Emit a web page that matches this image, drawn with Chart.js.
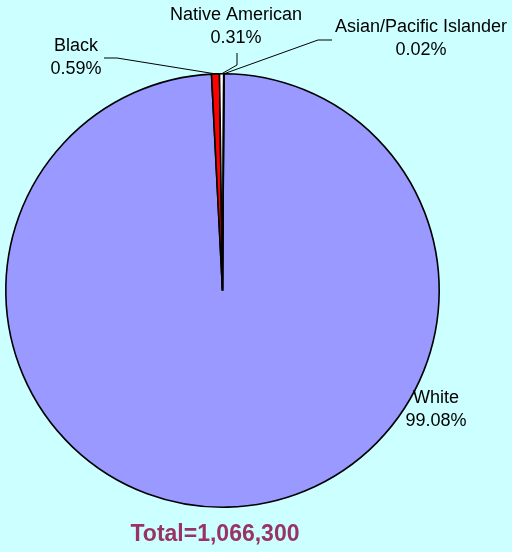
<!DOCTYPE html>
<html>
<head>
<meta charset="utf-8">
<script src="https://cdn.jsdelivr.net/npm/chart.js@4.4.0/dist/chart.umd.min.js"></script>
<style>
  html, body { margin: 0; padding: 0; background: #CCFFFF; }
  #wrap { position: relative; width: 512px; height: 552px; }
  canvas { display: block; }
</style>
</head>
<body>
<div id="wrap"><canvas id="c" width="512" height="552"></canvas></div>
<script>
const categories = ["White", "Black", "Native American", "Asian/Pacific Islander"];
const percentages = [99.08, 0.59, 0.31, 0.02];
const percentLabels = ["99.08%", "0.59%", "0.31%", "0.02%"];
const sliceColors = ["#9999FF", "#FF0000", "#FFFFFF", "#FFFFCC"];
const totalLabel = "Total=1,066,300";

// label layout: text centre, leader start, leader elbow
const labelLayout = [
  { text: [436, 398], lead: null },
  { text: [76, 46], lead: [[104, 58], [117, 58]] },
  { text: [236, 15], lead: [[237, 53], [237, 65]] },
  { text: [421, 27], lead: [[332, 40], [318, 40]] }
];

const labelPlugin = {
  id: 'labels',
  afterDraw(chart) {
    const ctx = chart.ctx;
    const meta = chart.getDatasetMeta(0);
    ctx.save();
    ctx.font = '18px "Liberation Sans", Arial, sans-serif';
    ctx.fillStyle = '#000';
    ctx.textAlign = 'center';
    ctx.textBaseline = 'middle';
    categories.forEach((cat, i) => {
      const L = labelLayout[i];
      ctx.fillText(cat, L.text[0], L.text[1]);
      ctx.fillText(percentLabels[i], L.text[0], L.text[1] + 23);
      if (L.lead) {
        const arc = meta.data[i];
        const p = arc.getProps(['x', 'y', 'startAngle', 'endAngle', 'outerRadius'], true);
        const mid = (p.startAngle + p.endAngle) / 2;
        const ex = p.x + Math.cos(mid) * p.outerRadius;
        const ey = p.y + Math.sin(mid) * p.outerRadius;
        ctx.beginPath();
        ctx.strokeStyle = '#000';
        ctx.lineWidth = 1;
        ctx.moveTo(L.lead[0][0], L.lead[0][1]);
        ctx.lineTo(L.lead[1][0], L.lead[1][1]);
        ctx.lineTo(ex, ey);
        ctx.stroke();
      }
    });
    ctx.font = 'bold 23px "Liberation Sans", Arial, sans-serif';
    ctx.fillStyle = '#993366';
    ctx.fillText(totalLabel, 215, 535);
    ctx.restore();
  }
};

new Chart(document.getElementById('c'), {
  type: 'pie',
  data: {
    labels: categories,
    datasets: [{
      data: percentages,
      backgroundColor: sliceColors,
      borderColor: '#000000',
      borderWidth: 1.6
    }]
  },
  options: {
    responsive: false,
    animation: false,
    rotation: 0.4,
    layout: { padding: { left: 5, right: 72, top: 72.5, bottom: 43.5 } },
    plugins: {
      legend: { display: false },
      tooltip: { enabled: false },
      title: { display: false }
    }
  },
  plugins: [labelPlugin]
});
</script>
</body>
</html>
